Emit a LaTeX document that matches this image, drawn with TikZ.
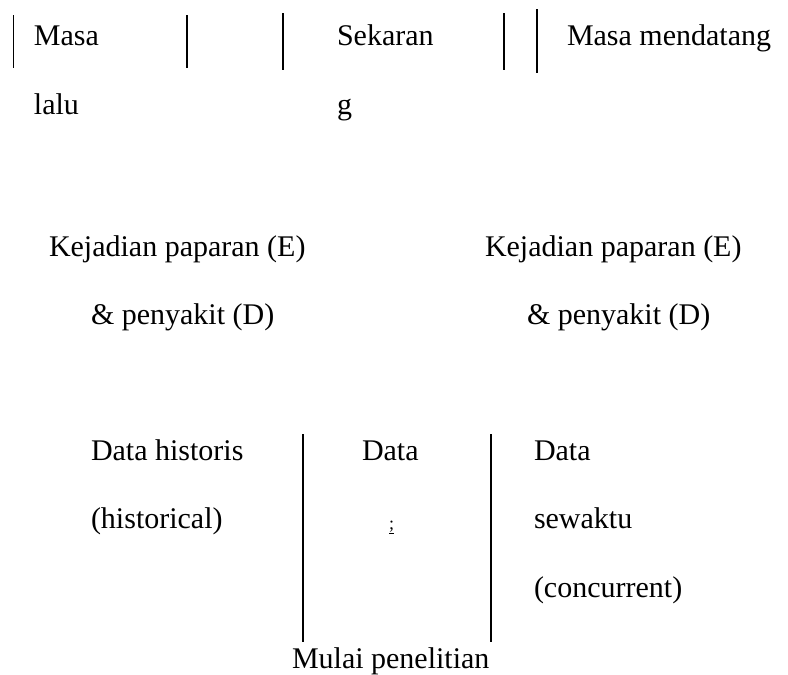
\documentclass[tikz,border=0pt]{standalone}
\usepackage{fontspec}
\setmainfont{Liberation Serif}
\begin{document}
\begin{tikzpicture}[x=1pt,y=-1pt,
  txt/.style={anchor=base west,inner sep=0pt,outer sep=0pt,font=\fontsize{30}{36}\selectfont},
  thinline/.style={line width=1.3pt,black},
  thickline/.style={line width=2.3pt,black}]
\useasboundingbox (0,0) rectangle (788,675);
% top row
\node[txt] (masa) at (34,45) {Masa};
\node[txt] (lalu) at (34,114) {lalu};
\node[txt] (sekaran) at (337,45) {Sekaran};
\node[txt] (g) at (337,114) {g};
\node[txt] (mendatang) at (567,45) {Masa mendatang};
\coordinate (t1a) at (13.5,15); \coordinate (t1b) at (13.5,68);
\coordinate (t2a) at (187,15); \coordinate (t2b) at (187,68);
\coordinate (t3a) at (283,13); \coordinate (t3b) at (283,70);
\coordinate (t4a) at (504,13); \coordinate (t4b) at (504,70);
\coordinate (t5a) at (537,9); \coordinate (t5b) at (537,73);
\draw[thinline] (t1a) -- (t1b);
\draw[thinline] (t2a) -- (t2b);
\draw[thinline] (t3a) -- (t3b);
\draw[thinline] (t4a) -- (t4b);
\draw[thinline] (t5a) -- (t5b);
% middle
\node[txt] (kej1) at (49,256) {Kejadian paparan (E)};
\node[txt] (pen1) at (91,324) {\& penyakit (D)};
\node[txt] (kej2) at (485,256) {Kejadian paparan (E)};
\node[txt] (pen2) at (527,324) {\& penyakit (D)};
% bottom
\node[txt] (dh) at (91,460) {Data historis};
\node[txt] (hist) at (91,528) {(historical)};
\node[txt] (data2) at (362,460) {Data};
\node[anchor=base west,inner sep=0pt,font=\fontsize{18}{20}\selectfont] (semi) at (389,529) {\underline{;}};
\node[txt] (data3) at (534,460) {Data};
\node[txt] (sew) at (534,528) {sewaktu};
\node[txt] (conc) at (534,597) {(concurrent)};
\node[txt] (mulai) at (292,668) {Mulai penelitian};
\coordinate (l1a) at (303,434); \coordinate (l1b) at (303,642);
\coordinate (l2a) at (491,434); \coordinate (l2b) at (491,642);
\draw[thickline] (l1a) -- (l1b);
\draw[thickline] (l2a) -- (l2b);
\end{tikzpicture}
\end{document}
